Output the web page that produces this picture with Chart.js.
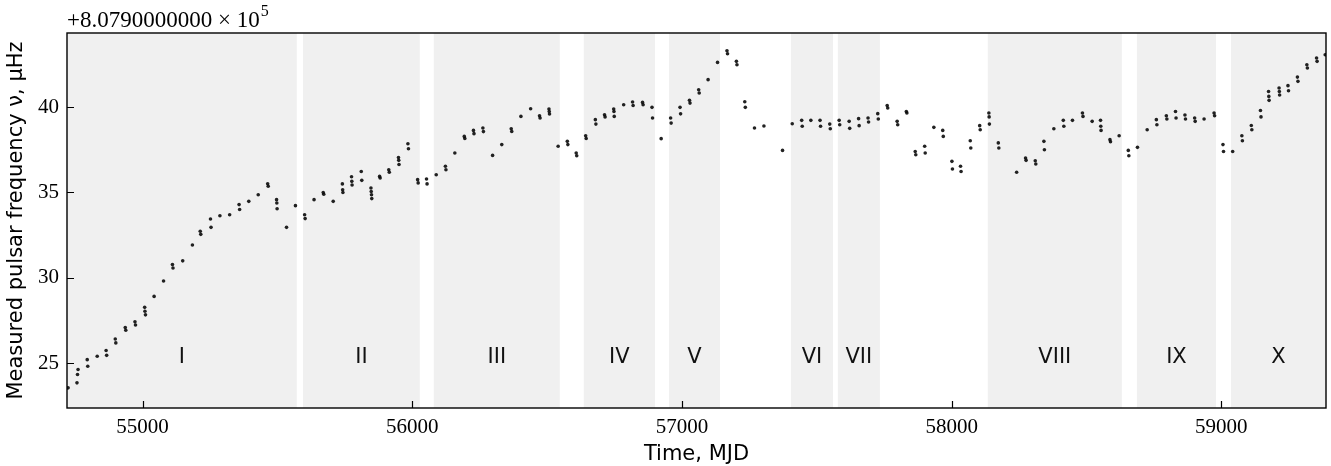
<!DOCTYPE html>
<html>
<head>
<meta charset="utf-8">
<script src="https://cdn.jsdelivr.net/npm/chart.js@4.4.1/dist/chart.umd.min.js"></script>
<style>
  html, body { margin: 0; padding: 0; background: #fff; }
  #wrap { width: 1331px; height: 466px; position: relative; }
</style>
</head>
<body>
<div id="wrap"><canvas id="graficoPulsar"></canvas></div>
<script>
// measured frequency, offset from 8.0790000000e5 (muHz), one entry per TOA
const mjd = [
  54724, 54757, 54759, 54761, 54795, 54797, 54832, 54865, 54867, 54899, 54901,
  54936, 54938, 54972, 54974, 55008, 55009, 55011, 55043, 55078, 55111, 55113,
  55149, 55185, 55214, 55216, 55252, 55254, 55287, 55323, 55358, 55360, 55394,
  55429, 55464, 55466, 55497, 55498, 55499, 55534, 55567, 55601, 55603, 55636,
  55670, 55672, 55707, 55741, 55742, 55743, 55775, 55776, 55777, 55811, 55813,
  55847, 55848, 55849, 55850, 55879, 55881, 55913, 55915, 55949, 55950, 55951,
  55984, 55986, 56020, 56022, 56053, 56055, 56089, 56123, 56125, 56158, 56193,
  56195, 56227, 56229, 56262, 56264, 56298, 56332, 56367, 56369, 56403, 56439,
  56472, 56474, 56507, 56508, 56509, 56541, 56575, 56577, 56608, 56610, 56643,
  56645, 56679, 56681, 56713, 56715, 56747, 56748, 56749, 56784, 56817, 56819,
  56854, 56856, 56889, 56891, 56923, 56958, 56960, 56993, 56995, 57028, 57030,
  57062, 57064, 57097, 57132, 57167, 57169, 57202, 57204, 57233, 57235, 57269,
  57304, 57373, 57409, 57444, 57446, 57478, 57512, 57514, 57548, 57550, 57583,
  57585, 57620, 57622, 57655, 57657, 57690, 57692, 57726, 57728, 57761, 57763,
  57798, 57800, 57832, 57834, 57865, 57867, 57900, 57902, 57934, 57967, 57969,
  58001, 58003, 58033, 58035, 58069, 58071, 58104, 58106, 58138, 58139, 58140,
  58173, 58175, 58241, 58274, 58276, 58310, 58312, 58342, 58344, 58379, 58414,
  58416, 58448, 58485, 58487, 58521, 58552, 58553, 58554, 58587, 58589, 58621,
  58655, 58657, 58689, 58725, 58759, 58761, 58796, 58798, 58830, 58832, 58865,
  58867, 58901, 58903, 58936, 58973, 58975, 59006, 59008, 59042, 59076, 59078,
  59111, 59113, 59145, 59147, 59175, 59176, 59177, 59214, 59215, 59216, 59247,
  59249, 59282, 59284, 59317, 59319, 59353, 59355, 59385
];
const freq = [
  23.57, 23.86, 24.35, 24.64, 25.22, 24.83, 25.42, 25.75, 25.47, 26.43, 26.20,
  27.10, 26.94, 27.43, 27.25, 28.28, 28.05, 27.84, 28.92, 29.82, 30.78, 30.58,
  31.00, 31.93, 32.73, 32.55, 33.45, 32.96, 33.64, 33.70, 34.29, 34.00, 34.48,
  34.87, 35.51, 35.36, 34.58, 34.38, 34.05, 32.96, 34.23, 33.70, 33.47, 34.58,
  35.00, 34.90, 34.48, 35.50, 35.16, 35.00, 35.92, 35.65, 35.44, 36.23, 35.71,
  35.26, 35.06, 34.87, 34.64, 35.94, 35.85, 36.33, 36.18, 37.05, 36.88, 36.64,
  37.85, 37.56, 35.75, 35.56, 35.79, 35.50, 36.04, 36.53, 36.33, 37.31, 38.28,
  38.16, 38.63, 38.44, 38.77, 38.56, 37.17, 37.80, 38.73, 38.57, 39.45, 39.90,
  39.49, 39.36, 39.88, 39.74, 39.59, 37.70, 37.99, 37.80, 37.31, 37.15, 38.32,
  38.16, 39.26, 39.00, 39.55, 39.42, 39.88, 39.74, 39.45, 40.13, 40.29, 40.09,
  40.27, 40.13, 39.98, 39.36, 38.15, 39.36, 39.06, 39.98, 39.60, 40.39, 40.23,
  41.01, 40.82, 41.60, 42.61, 43.29, 43.12, 42.67, 42.47, 40.31, 39.98, 38.77,
  38.89, 37.46, 39.02, 39.22, 38.87, 39.22, 39.22, 38.87, 39.00, 38.73, 39.22,
  38.96, 39.16, 38.75, 39.32, 38.91, 39.36, 39.12, 39.61, 39.30, 40.09, 39.94,
  39.16, 38.96, 39.74, 39.65, 37.40, 37.21, 37.70, 37.31, 38.81, 38.63, 38.28,
  36.82, 36.37, 36.53, 36.23, 38.03, 37.60, 38.91, 38.67, 39.65, 39.42, 39.00,
  37.90, 37.60, 36.18, 37.02, 36.88, 36.86, 36.67, 37.99, 37.50, 38.73, 39.22,
  38.87, 39.22, 39.65, 39.45, 39.16, 39.22, 38.87, 38.63, 38.09, 37.97, 38.32,
  37.46, 37.15, 37.64, 38.67, 39.26, 38.96, 39.49, 39.30, 39.74, 39.36, 39.53,
  39.30, 39.36, 39.16, 39.30, 39.65, 39.49, 37.80, 37.40, 37.40, 38.32, 38.03,
  38.92, 38.67, 39.80, 39.42, 40.91, 40.62, 40.39, 41.11, 40.91, 40.70, 41.25,
  40.95, 41.75, 41.50, 42.47, 42.28, 42.87, 42.67, 43.06
];

// shaded intervals
const tramos = ['I', 'II', 'III', 'IV', 'V', 'VI', 'VII', 'VIII', 'IX', 'X'];
const tramoInicio = [54700, 55595, 56080, 56636, 56952, 57404, 57578, 58134, 58687, 59036];
const tramoFin = [55572, 56028, 56547, 56900, 57141, 57560, 57734, 58631, 58980, 59420];
const tramoEtiquetaY = 25;

const xTicks = [55000, 56000, 57000, 58000, 59000];
const yTicks = [25, 30, 35, 40];
const offsetTexto = '+8.0790000000 \u00d7 10';
const offsetExp = '5';

const sans = '"DejaVu Sans", sans-serif';
const serif = '"Liberation Serif", serif';

const sombreado = {
    id: 'sombreado',
    beforeDatasetsDraw(chart) {
        const { ctx, chartArea: a, scales: { x, y } } = chart;
        ctx.save();
        ctx.beginPath();
        ctx.rect(a.left, a.top, a.right - a.left, a.bottom - a.top);
        ctx.clip();
        ctx.fillStyle = '#f0f0f0';
        tramos.forEach((t, i) => {
            const x0 = x.getPixelForValue(tramoInicio[i]);
            const x1 = x.getPixelForValue(tramoFin[i]);
            ctx.fillRect(x0, a.top, x1 - x0, a.bottom - a.top);
        });
        ctx.fillStyle = '#111';
        ctx.font = '21px ' + sans;
        ctx.textAlign = 'center';
        ctx.textBaseline = 'alphabetic';
        tramos.forEach((t, i) => {
            const x0 = x.getPixelForValue(Math.max(tramoInicio[i], x.min));
            const x1 = x.getPixelForValue(Math.min(tramoFin[i], x.max));
            ctx.fillText(t, (x0 + x1) / 2, y.getPixelForValue(tramoEtiquetaY));
        });
        ctx.restore();
    },
    afterDraw(chart) {
        const { ctx, chartArea: a, scales: { x, y } } = chart;
        ctx.save();
        ctx.strokeStyle = '#000';
        ctx.lineWidth = 1.4;
        ctx.strokeRect(a.left, a.top, a.right - a.left, a.bottom - a.top);
        ctx.beginPath();
        xTicks.forEach(v => {
            const px = Math.round(x.getPixelForValue(v)) + 0.5;
            ctx.moveTo(px, a.bottom);
            ctx.lineTo(px, a.bottom - 7);
        });
        yTicks.forEach(v => {
            const py = Math.round(y.getPixelForValue(v)) + 0.5;
            ctx.moveTo(a.left, py);
            ctx.lineTo(a.left + 7, py);
        });
        ctx.lineWidth = 1.2;
        ctx.stroke();
        // offset label of the y axis
        ctx.fillStyle = '#000';
        ctx.font = '23px ' + serif;
        ctx.textAlign = 'left';
        ctx.textBaseline = 'alphabetic';
        ctx.fillText(offsetTexto, a.left, a.top - 6);
        const w = ctx.measureText(offsetTexto).width;
        ctx.font = '16px ' + serif;
        ctx.fillText(offsetExp, a.left + w + 1, a.top - 17);
        ctx.restore();
    }
};

const puntos = mjd.map((m, i) => ({ x: m, y: freq[i] }));

new Chart(document.getElementById('graficoPulsar').getContext('2d'), {
    type: 'scatter',
    data: {
        datasets: [{
            data: puntos,
            pointRadius: 1.8,
            pointHoverRadius: 1.8,
            pointBorderWidth: 0,
            backgroundColor: 'rgba(10,10,10,0.9)'
        }]
    },
    plugins: [sombreado],
    options: {
        responsive: true,
        maintainAspectRatio: false,
        animation: false,
        layout: { padding: { left: 0, right: 5, top: 33, bottom: 0 } },
        plugins: {
            legend: { display: false },
            tooltip: { enabled: false }
        },
        scales: {
            x: {
                type: 'linear',
                min: 54720,
                max: 59388,
                grid: { display: false, drawTicks: false },
                border: { display: false },
                afterBuildTicks: s => { s.ticks = xTicks.map(v => ({ value: v })); },
                afterFit: s => { s.height = 58; },
                ticks: {
                    color: '#000',
                    padding: 7,
                    maxRotation: 0,
                    font: { family: serif, size: 21 },
                    callback: v => String(v)
                },
                title: {
                    display: true,
                    text: 'Time, MJD',
                    color: '#000',
                    font: { family: sans, size: 21, lineHeight: 1.1 },
                    padding: { top: 0, bottom: 0 }
                }
            },
            y: {
                min: 22.39,
                max: 44.33,
                grid: { display: false, drawTicks: false },
                border: { display: false },
                afterBuildTicks: s => { s.ticks = yTicks.map(v => ({ value: v })); },
                afterFit: s => { s.width = 67; },
                ticks: {
                    color: '#000',
                    padding: 8,
                    font: { family: serif, size: 21 },
                    callback: v => String(v)
                },
                title: {
                    display: true,
                    text: 'Measured pulsar frequency \u03bd, \u03bcHz',
                    color: '#000',
                    font: { family: sans, size: 21, lineHeight: 1.2 },
                    padding: { top: 4, bottom: 0 }
                }
            }
        }
    }
});
</script>
</body>
</html>
